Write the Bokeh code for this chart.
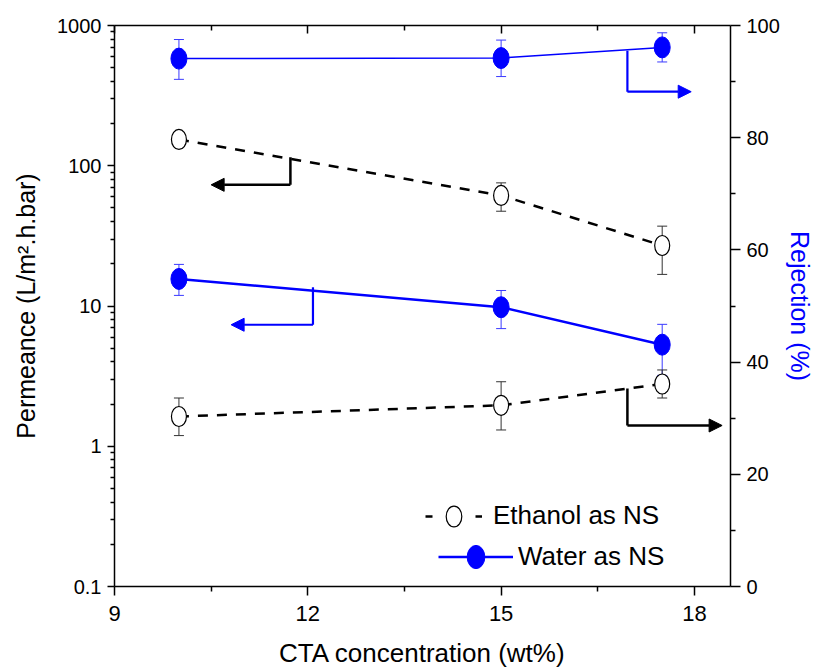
from bokeh.plotting import figure
from bokeh.models import (ColumnDataSource, Range1d, LinearAxis, FixedTicker, Whisker, LinearScale,
                          TeeHead, Arrow, NormalHead, Legend, LegendItem, CustomJSTickFormatter)
from bokeh.embed import file_html
from bokeh.resources import INLINE

# ---------------- data ----------------
cta = [10, 15, 17.5]

eth_perm = [154, 61.4, 27.0]
eth_perm_lo = [148, 47.4, 16.8]
eth_perm_hi = [160, 75.5, 37.1]

water_perm = [15.6, 9.8, 5.3]
water_perm_lo = [11.9, 6.9, 3.2]
water_perm_hi = [19.8, 12.9, 7.4]

eth_rej = [30.3, 32.3, 36.1]
eth_rej_lo = [26.9, 27.9, 33.6]
eth_rej_hi = [33.6, 36.5, 38.6]

water_rej = [94.1, 94.2, 96.1]
water_rej_lo = [90.4, 90.9, 93.5]
water_rej_hi = [97.5, 97.4, 98.7]

x_ticks = [9, 12, 15, 18]
x_minor = [10.5, 13.5, 16.5]
perm_ticks = [0.1, 1, 10, 100, 1000]
rej_ticks = [0, 20, 40, 60, 80, 100]
rej_minor = [10, 30, 50, 70, 90]

# axis-indicator arrows: (x corner, y start, y corner, x tip)
arrow_eth_perm = (11.73, 115, 73.1, 10.50)
arrow_water_perm = (12.08, 13.6, 7.35, 10.81)
arrow_water_rej = (16.96, 95.5, 88.2, 17.95)
arrow_eth_rej = (16.96, 35.3, 28.7, 18.43)

FONT = "Liberation Sans"
BLUE = "#0000ff"

src = ColumnDataSource(dict(
    x=cta,
    eth_perm=eth_perm, eth_perm_lo=eth_perm_lo, eth_perm_hi=eth_perm_hi,
    water_perm=water_perm, water_perm_lo=water_perm_lo, water_perm_hi=water_perm_hi,
    eth_rej=eth_rej, eth_rej_lo=eth_rej_lo, eth_rej_hi=eth_rej_hi,
    water_rej=water_rej, water_rej_lo=water_rej_lo, water_rej_hi=water_rej_hi,
))

p = figure(width=816, height=672, output_backend="svg", toolbar_location=None,
           y_axis_type="log", x_range=Range1d(9, 18.56), y_range=Range1d(0.1, 1000),
           min_border_left=114, min_border_right=86, min_border_top=25, min_border_bottom=86)
p.extra_y_ranges = {"rej": Range1d(0, 100)}
p.extra_y_scales = {"rej": LinearScale()}
p.grid.visible = False
p.outline_line_color = None
p.background_fill_color = "white"
p.border_fill_color = "white"

# ---- axes ----
xa = p.xaxis[0]
xa.ticker = FixedTicker(ticks=x_ticks, minor_ticks=x_minor)
xa.axis_label = "CTA concentration (wt%)"
ya = p.yaxis[0]
ya.ticker = FixedTicker(ticks=perm_ticks,
                        minor_ticks=[k * t for t in perm_ticks[:-1] for k in range(2, 10)])
ya.formatter = CustomJSTickFormatter(code="return String(tick)")
ya.axis_label = "Permeance (L/m\u00b2.h.bar)"

ra = LinearAxis(y_range_name="rej", ticker=FixedTicker(ticks=rej_ticks, minor_ticks=rej_minor),
                axis_label="Rejection (%)")
p.add_layout(ra, "right")

ta = LinearAxis(ticker=FixedTicker(ticks=x_ticks, minor_ticks=x_minor),
                formatter=CustomJSTickFormatter(code="return ''"))
p.add_layout(ta, "above")

for ax in [xa, ya, ra, ta]:
    ax.axis_line_width = 1.5
    ax.axis_line_color = "black"
    ax.major_tick_line_width = 1.5
    ax.minor_tick_line_width = 1.5
    ax.major_tick_line_color = "black"
    ax.minor_tick_line_color = "black"
    ax.major_label_text_font = FONT
    ax.axis_label_text_font = FONT
    ax.axis_label_text_font_style = "normal"
    ax.major_label_text_color = "black"
    ax.axis_label_text_color = "black"

xa.major_tick_in, xa.major_tick_out = 0, 9
xa.minor_tick_in, xa.minor_tick_out = 0, 5
xa.major_label_text_font_size = "22px"
xa.major_label_standoff = 10
xa.axis_label_text_font_size = "26px"
xa.axis_label_standoff = 14

ya.major_tick_in, ya.major_tick_out = 0, 7
ya.minor_tick_in, ya.minor_tick_out = 0, 4
ya.major_label_text_font_size = "20px"
ya.major_label_standoff = 6
ya.axis_label_text_font_size = "25px"
ya.axis_label_standoff = 14

ra.major_tick_in, ra.major_tick_out = 0, 10
ra.minor_tick_in, ra.minor_tick_out = 0, 5
ra.major_label_text_font_size = "20px"
ra.major_label_standoff = 6
ra.axis_label_text_font_size = "25px"
ra.axis_label_text_color = BLUE
ra.axis_label_standoff = 3

ta.major_tick_in, ta.major_tick_out = 8, 0
ta.minor_tick_in, ta.minor_tick_out = 5, 0
ta.major_label_text_font_size = "1px"
ta.major_label_standoff = 0

# ---- error bars ----
def whisker(lo, hi, color, rng=None):
    w = Whisker(base="x", lower=lo, upper=hi, source=src, line_color=color, line_width=1,
                upper_head=TeeHead(size=10, line_color=color, line_width=1),
                lower_head=TeeHead(size=10, line_color=color, line_width=1))
    if rng:
        w.y_range_name = rng
    p.add_layout(w)

whisker("eth_perm_lo", "eth_perm_hi", "#333333")
whisker("water_perm_lo", "water_perm_hi", "#3a3aff")
whisker("eth_rej_lo", "eth_rej_hi", "#333333", "rej")
whisker("water_rej_lo", "water_rej_hi", "#3a3aff", "rej")

# ---- lines ----
p.line("x", "eth_perm", source=src, line_color="black", line_width=2.5, line_dash="10 9")
wl = p.line("x", "water_perm", source=src, line_color=BLUE, line_width=2.5)
p.line("x", "eth_rej", source=src, line_color="black", line_width=2.5, line_dash="10 9",
       y_range_name="rej")
p.line("x", "water_rej", source=src, line_color=BLUE, line_width=1.5, y_range_name="rej")

# ---- arrows ----
def ind_arrow(a, color, width, rng=None):
    xc, ys, yc, xt = a
    kw = {"y_range_name": rng} if rng else {}
    p.segment(x0=[xc], y0=[ys], x1=[xc], y1=[yc], line_color=color, line_width=width, **kw)
    ar = Arrow(x_start=xc, y_start=yc, x_end=xt, y_end=yc, line_color=color, line_width=width,
               end=NormalHead(size=13, fill_color=color, line_color=color, line_width=1))
    if rng:
        ar.y_range_name = rng
    p.add_layout(ar)

ind_arrow(arrow_eth_perm, "black", 2.5)
ind_arrow(arrow_water_perm, BLUE, 2.2)
ind_arrow(arrow_water_rej, BLUE, 2.2, "rej")
ind_arrow(arrow_eth_rej, "black", 2.5, "rej")

# ---- markers ----
ee = p.ellipse("x", "eth_perm", source=src, width=15, height=20, width_units="screen",
               height_units="screen", fill_color="white", line_color="black", line_width=1.2)
we = p.ellipse("x", "water_perm", source=src, width=16, height=21, width_units="screen",
               height_units="screen", fill_color=BLUE, line_color=BLUE)
p.ellipse("x", "eth_rej", source=src, width=15, height=20, width_units="screen",
          height_units="screen", fill_color="white", line_color="black", line_width=1.2,
          y_range_name="rej")
p.ellipse("x", "water_rej", source=src, width=16, height=21, width_units="screen",
          height_units="screen", fill_color=BLUE, line_color=BLUE, y_range_name="rej")

# ---- legends ----
nan = float("nan")
dummy = p.line(x=[nan, nan], y=[nan, nan], line_color="black", line_width=2.5, line_dash="7 43")

leg1 = Legend(items=[LegendItem(label="Ethanol as NS", renderers=[dummy, ee])],
              location=(311, 55), glyph_width=57, glyph_height=26, label_standoff=11,
              padding=0, margin=0, border_line_color=None, background_fill_alpha=0,
              label_text_font=FONT, label_text_font_size="26px", label_height=26,
              label_text_color="black")
leg2 = Legend(items=[LegendItem(label="Water as NS", renderers=[wl, we])],
              location=(324, 14), glyph_width=75, glyph_height=29, label_standoff=5,
              padding=0, margin=0, border_line_color=None, background_fill_alpha=0,
              label_text_font=FONT, label_text_font_size="26px", label_height=29,
              label_text_color="black")
p.add_layout(leg1)
p.add_layout(leg2)

open("out.html", "w").write(file_html(p, INLINE))
